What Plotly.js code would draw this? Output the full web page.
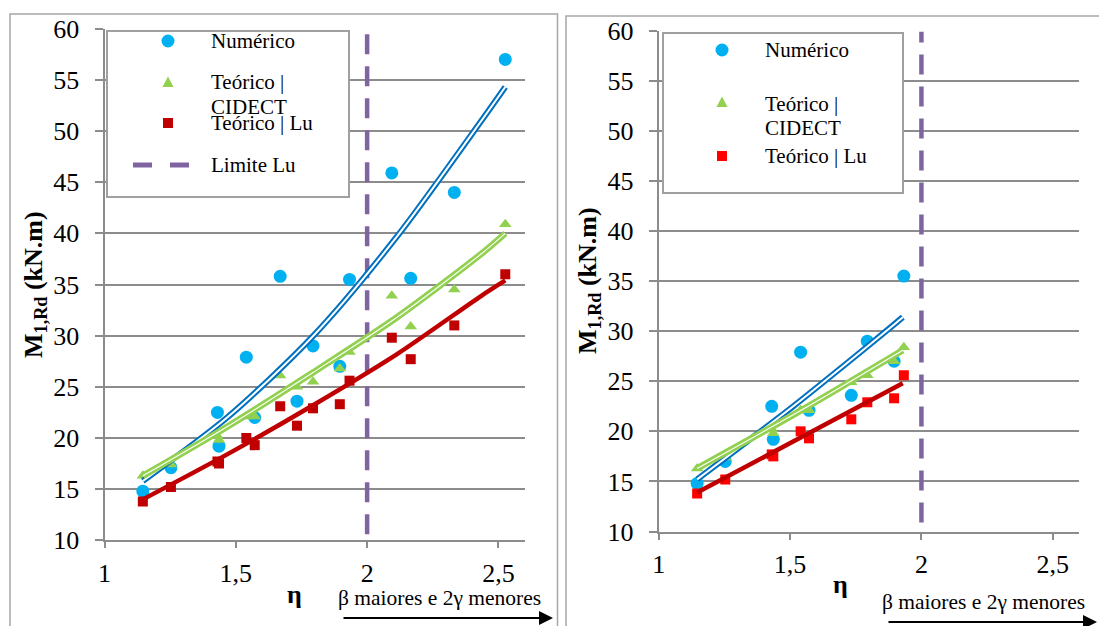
<!DOCTYPE html>
<html>
<head>
<meta charset="utf-8">
<script src="https://cdn.plot.ly/plotly-3.0.1.min.js"></script>
<style>html,body{margin:0;padding:0;background:#fff}#chart{width:1099px;height:626px}</style>
</head>
<body>
<div id="chart"></div>
<script>
// ---------- DATA (left chart: all cases) ----------
const eta     = [1.146, 1.253, 1.43, 1.436, 1.54, 1.572, 1.669, 1.733, 1.794, 1.896, 1.933, 2.094, 2.166, 2.332, 2.526];
const numerico = [14.8, 17.1, 22.5, 19.2, 27.9, 22.0, 35.8, 23.6, 29.0, 27.0, 35.5, 45.9, 35.6, 44.0, 57.0];
const cidect   = [16.3, 17.4, 20.2, 19.8, 22.1, 22.1, 26.1, 25.0, 25.5, 26.8, 28.4, 33.9, 30.9, 34.5, 40.9];
const luVals   = [13.8, 15.2, 17.7, 17.5, 20.0, 19.3, 23.1, 21.2, 22.9, 23.3, 25.6, 29.8, 27.7, 31.0, 36.0];
// trend lines (left)
const trendEta    = [1.146, 1.467, 1.794, 2.114, 2.435, 2.526];
const trendNum    = [15.8, 22.0, 29.95, 39.7, 51.0, 54.3];
const trendCidect = [16.3, 21.1, 26.4, 31.8, 38.0, 40.0];
const trendLu     = [14.0, 18.4, 23.2, 28.2, 33.9, 35.4];

// ---------- DATA (right chart: cases up to Lu limit) ----------
const etaR      = [1.146, 1.253, 1.43, 1.436, 1.54, 1.572, 1.733, 1.794, 1.896, 1.933];
const numericoR = [14.8, 17.0, 22.5, 19.2, 27.9, 22.1, 23.6, 29.0, 27.0, 35.5];
const cidectR   = [16.3, 17.4, 20.2, 19.8, 22.1, 22.1, 24.9, 25.6, 27.0, 28.4];
const luValsR   = [13.8, 15.2, 17.7, 17.5, 20.0, 19.3, 21.2, 22.9, 23.3, 25.6];
const trendEtaR    = [1.146, 1.512, 1.697, 1.879, 1.929];
const trendNumR    = [15.2, 22.5, 26.4, 30.3, 31.4];
const trendEtaR2   = [1.146, 1.542, 1.929];
const trendCidectR = [16.3, 22.1, 28.1];
const trendLuR     = [13.9, 19.4, 24.8];

// Lu limit
const limitEta = [2, 2];
const limitL   = [10.6, 59.5];
const limitR   = [10.9, 59.9];

// labels
const seriesNames = ["Numérico", "Teórico |", "CIDECT", "Teórico | Lu", "Limite Lu"];
const yTitle = "<b>M<sub>1,Rd</sub> (kN.m)</b>";
const xTitle = "<b>η</b>";
const arrowNote = "β maiores e 2γ menores";

// ---------- STYLE ----------
const W = 1099, H = 626;
const FONT = "Liberation Serif, Times New Roman, serif";
const cBlue = "#00B0F0", cBlueT = "#0070C0", cGreen = "#92D050", cDarkRed = "#C00000", cRed = "#FF0000", cPurple = "#8064A2";
const gridC = "#8C8C8C";
const px = v => v / W, py = v => 1 - v / H;

function markers(x, y, xa, ya, sym, color, size) {
  return {x, y, xaxis: xa, yaxis: ya, type: "scatter", mode: "markers", hoverinfo: "skip",
          marker: {symbol: sym, color, size, line: {width: 0}}};
}
function line(x, y, xa, ya, color, width) {
  return {x, y, xaxis: xa, yaxis: ya, type: "scatter", mode: "lines", hoverinfo: "skip",
          line: {color, width, shape: "spline", smoothing: 0.8}};
}
function dashLine(x, y, xa, ya) {
  return {x, y, xaxis: xa, yaxis: ya, type: "scatter", mode: "lines", hoverinfo: "skip",
          line: {color: cPurple, width: 4.5, dash: "20px,12px"}};
}

const traces = [
  // left
  dashLine(limitEta, limitL, "x", "y"),
  markers(eta, numerico, "x", "y", "circle", cBlue, 13),
  markers(eta, cidect, "x", "y", "triangle-up", cGreen, 11),
  markers(eta, luVals, "x", "y", "square", cDarkRed, 10),
  line(trendEta, trendNum, "x", "y", cBlueT, 6),
  line(trendEta, trendNum, "x", "y", "#FFFFFF", 2),
  line(trendEta, trendCidect, "x", "y", cGreen, 6.5),
  line(trendEta, trendCidect, "x", "y", "#FFFFFF", 1.1),
  line(trendEta, trendLu, "x", "y", cDarkRed, 4.5),
  // right
  dashLine(limitEta, limitR, "x2", "y2"),
  markers(etaR, numericoR, "x2", "y2", "circle", cBlue, 13),
  markers(etaR, cidectR, "x2", "y2", "triangle-up", cGreen, 11),
  markers(etaR, luValsR, "x2", "y2", "square", cRed, 10),
  line(trendEtaR, trendNumR, "x2", "y2", cBlueT, 6),
  line(trendEtaR, trendNumR, "x2", "y2", "#FFFFFF", 2),
  line(trendEtaR2, trendCidectR, "x2", "y2", cGreen, 6.5),
  line(trendEtaR2, trendCidectR, "x2", "y2", "#FFFFFF", 1.1),
  line(trendEtaR2, trendLuR, "x2", "y2", cDarkRed, 4.5)
];

function xAxis(d0, d1, anchor) {
  return {domain: [px(d0), px(d1)], anchor, range: [1, 2.6], tick0: 1, dtick: 0.5,
          ticks: "outside", ticklen: 6, tickwidth: 2, tickcolor: gridC,
          showline: true, linecolor: gridC, linewidth: 2, showgrid: false, zeroline: false,
          tickfont: {size: 26, family: FONT, color: "#000"}, ticklabelstandoff: 2, fixedrange: true};
}
function yAxis(top, bottom, anchor) {
  return {domain: [py(bottom), py(top)], anchor, range: [10, 60], tick0: 10, dtick: 5,
          ticks: "outside", ticklen: 8, tickwidth: 2, tickcolor: gridC,
          showline: true, linecolor: gridC, linewidth: 2, showgrid: true, gridcolor: gridC, gridwidth: 2,
          zeroline: false, tickfont: {size: 26, family: FONT, color: "#000"}, ticklabelstandoff: 10, fixedrange: true};
}

function rect(x0, y0, x1, y1, color, width, fill, layer) {
  return {type: "rect", xref: "paper", yref: "paper", x0: px(x0), x1: px(x1), y0: py(y0), y1: py(y1),
          line: {color, width}, fillcolor: fill || "rgba(0,0,0,0)", layer: layer || "above"};
}
function circ(cx, cy, r, color) {
  return {type: "circle", xref: "paper", yref: "paper", x0: px(cx - r), x1: px(cx + r), y0: py(cy + r), y1: py(cy - r),
          line: {width: 0}, fillcolor: color, layer: "above"};
}
function tri(cx, cy, s, color) {
  const p = `M ${px(cx - s/2)} ${py(cy + s*0.45)} L ${px(cx + s/2)} ${py(cy + s*0.45)} L ${px(cx)} ${py(cy - s*0.5)} Z`;
  return {type: "path", xref: "paper", yref: "paper", path: p, line: {width: 0}, fillcolor: color, layer: "above"};
}
function seg(x0, x1, y, color, w) {
  return {type: "line", xref: "paper", yref: "paper", x0: px(x0), x1: px(x1), y0: py(y), y1: py(y),
          line: {color, width: w}, layer: "above"};
}

const shapes = [
  rect(10, 14, 557.5, 700, "#A6A6A6", 1.5, null, "below"),
  rect(566, 16, 1130, 700, "#A6A6A6", 1.5, null, "below"),
  // left legend
  rect(107, 31, 349, 197, "#A0A0A0", 2, "#FFFFFF"),
  circ(168, 41, 6.5, cBlue),
  tri(168, 82, 11, cGreen),
  rect(163, 118, 173, 128, cDarkRed, 0, cDarkRed),
  seg(133, 152, 165, cPurple, 5),
  seg(170, 189, 165, cPurple, 5),
  // right legend
  rect(663, 33, 903, 193, "#A0A0A0", 2, "#FFFFFF"),
  circ(722, 50, 6.5, cBlue),
  tri(722, 102, 11, cGreen),
  rect(717, 151, 727, 161, cRed, 0, cRed)
];

function txt(text, x, y, size, xanchor, extra) {
  return Object.assign({text, x: px(x), y: py(y), xref: "paper", yref: "paper", showarrow: false,
          xanchor: xanchor || "left", yanchor: "middle", font: {size, family: FONT, color: "#000"}}, extra || {});
}
function arrow(tipX, tipY, len) {
  return {text: "", x: px(tipX), y: py(tipY), xref: "paper", yref: "paper", showarrow: true,
          ax: -len, ay: 0, arrowhead: 2, arrowsize: 1.4, arrowwidth: 2, arrowcolor: "#000", standoff: 0, startstandoff: 0};
}

const annotations = [
  // left
  txt(yTitle, 35, 285, 26, "center", {textangle: -90}),
  txt(xTitle, 294, 594, 26, "center"),
  txt(seriesNames[0], 209, 41, 21),
  txt(seriesNames[1], 209, 82, 21),
  txt(seriesNames[2], 209, 107, 21),
  txt(seriesNames[3], 209, 123, 21),
  txt(seriesNames[4], 209, 165, 21),
  txt(arrowNote, 439, 598, 21.5, "center"),
  arrow(553, 618, 211),
  // right
  txt(yTitle, 589, 281, 26, "center", {textangle: -90}),
  txt(xTitle, 840, 584, 26, "center"),
  txt(seriesNames[0], 763, 50, 21),
  txt(seriesNames[1], 763, 104, 21),
  txt(seriesNames[2], 763, 128, 21),
  txt(seriesNames[3], 763, 156, 21),
  txt(arrowNote, 983, 602, 21.5, "center"),
  arrow(1097, 622, 210)
];

const layout = {
  width: W, height: H, margin: {l: 0, r: 0, t: 0, b: 0},
  paper_bgcolor: "#FFFFFF", plot_bgcolor: "rgba(0,0,0,0)",
  showlegend: false, separators: ",.",
  font: {family: FONT, color: "#000"},
  xaxis: xAxis(104.5, 524.7, "y"),
  yaxis: yAxis(28.7, 540.3, "x"),
  xaxis2: xAxis(658.8, 1079, "y2"),
  yaxis2: yAxis(30.7, 531.5, "x2"),
  shapes, annotations
};

Plotly.newPlot("chart", traces, layout, {staticPlot: true, displayModeBar: false});
</script>
</body>
</html>
